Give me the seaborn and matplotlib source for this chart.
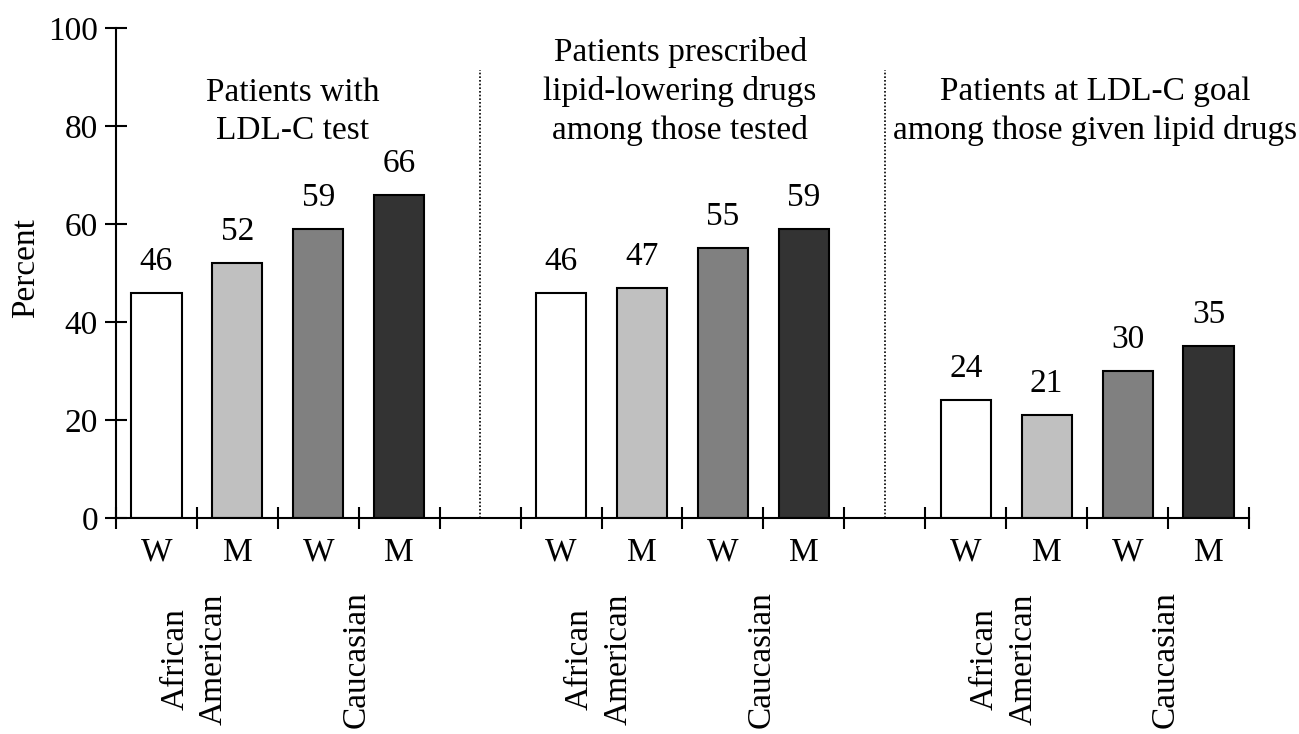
import numpy as np
import pandas as pd
import matplotlib
matplotlib.use('Agg')
import matplotlib.pyplot as plt
import seaborn as sns

# values
group_titles = ['Patients with\nLDL-C test',
                'Patients prescribed\nlipid-lowering drugs\namong those tested',
                'Patients at LDL-C goal\namong those given lipid drugs']
sex_labels = ['W', 'M', 'W', 'M']
race_labels = ['African\nAmerican', 'Caucasian']
subgroups = ['AA W', 'AA M', 'C W', 'C M']
ldl_test = [46, 52, 59, 66]
lipid_drugs = [46, 47, 55, 59]
ldl_goal = [24, 21, 30, 35]
bar_colors = ['#ffffff', '#c0c0c0', '#808080', '#333333']

sns.set_style('white')
plt.rcParams['font.family'] = ['Liberation Serif', 'DejaVu Serif']
plt.rcParams['font.size'] = 24
for k in ['text.color', 'axes.labelcolor', 'xtick.color', 'ytick.color']:
    plt.rcParams[k] = 'black'

series = [ldl_test, lipid_drugs, ldl_goal]
gap = len(subgroups) + 1  # one empty slot between groups
rows = []
for g, vals in enumerate(series):
    for i, v in enumerate(vals):
        rows.append({'pos': g * gap + i, 'pct': v, 'sub': subgroups[i]})
df = pd.DataFrame(rows)

fig = plt.figure(figsize=(12.99, 7.34), dpi=100)
ax = fig.add_axes([0.0893, 0.2943, 0.8722, 0.6676])

sns.barplot(data=df, x='pos', y='pct', hue='sub', hue_order=subgroups,
            palette=bar_colors, native_scale=True, dodge=False, width=0.62,
            errorbar=None, legend=False, edgecolor='black', linewidth=1.5,
            saturation=1, ax=ax)

n_slots = len(series) * gap - 1
ax.set_xlim(-0.5, n_slots - 0.5)
ax.set_ylim(0, 100)

# value labels
for _, r in df.iterrows():
    ax.text(r['pos'], r['pct'] + 4.7, f"{r['pct']:.0f}", ha='center', va='baseline')

# group titles and separators
title_x = [1.68, 6.47, 11.6]
for g, t in enumerate(group_titles):
    ax.text(title_x[g], 76, t, ha='center', va='bottom', multialignment='center',
            linespacing=1.32)
for g in range(1, len(series)):
    ax.plot([g * gap - 1, g * gap - 1], [0, 91.4], ls=(0, (1, 1.2)), color='black',
            lw=1.2)

# axes styling
for s in ['top', 'right']:
    ax.spines[s].set_visible(False)
for s in ['left', 'bottom']:
    ax.spines[s].set_linewidth(1.5)
    ax.spines[s].set_color('black')
ax.spines['left'].set_bounds(0, 100)

ax.set_yticks(np.arange(0, 101, 20))
ax.tick_params(axis='y', direction='inout', length=16, width=1.5, pad=5, labelsize=24,
               left=True, color='black')
ax.set_xticks(np.arange(-0.5, n_slots, 1.0))
ax.set_xticklabels([])
ax.tick_params(axis='x', which='major', direction='inout', length=16, width=1.5,
               bottom=True, color='black')
ax.set_xticks(df['pos'], [sex_labels[i % gap] for i in df['pos']], minor=True)
ax.tick_params(axis='x', which='minor', length=0, pad=14, labelsize=24)
ax.set_xlabel('')
ax.set_ylabel('')
ax.text(-0.08, 0.51, 'Percent', rotation=90, ha='center', va='center',
        transform=ax.transAxes)

for g in range(len(series)):
    for k, lab in enumerate(race_labels):
        ax.text(g * gap + 2 * k + 0.47, -28.8, lab, rotation=90, ha='center',
                va='center', multialignment='center', linespacing=1.35, clip_on=False)

fig.savefig('out.png', dpi=100, facecolor='white')
